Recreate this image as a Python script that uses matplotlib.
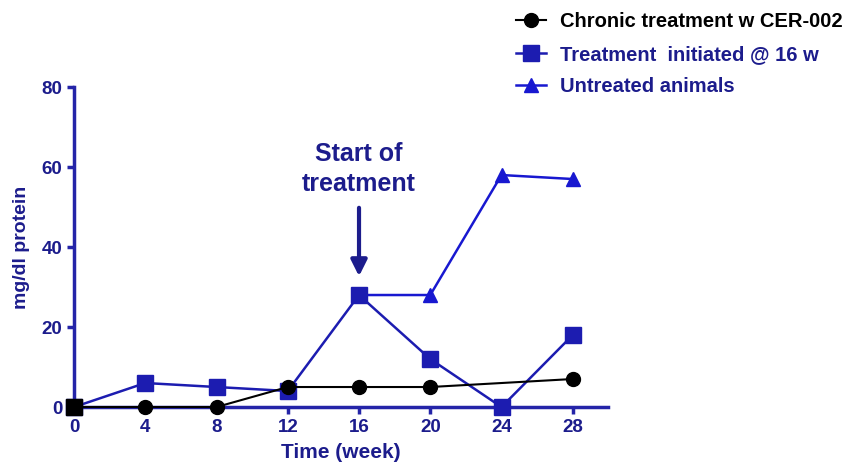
import matplotlib.pyplot as plt

plt.rcParams['font.family'] = ['Liberation Sans', 'DejaVu Sans']
plt.rcParams['font.weight'] = 'bold'

navy = '#1c1c8c'
axis_blue = '#2424a8'

# data
weeks_chronic = [4, 8, 12, 16, 20, 28]
chronic = [0, 0, 5, 5, 5, 7]
weeks_init = [0, 4, 8, 12, 16, 20, 24, 28]
initiated = [0, 6, 5, 4, 28, 12, 0, 18]
weeks_untreated = [16, 20, 24, 28]
untreated = [28, 28, 58, 57]
x_ticks = [0, 4, 8, 12, 16, 20, 24, 28]
y_ticks = [0, 20, 40, 60, 80]

fig = plt.figure(figsize=(8.66, 4.73), dpi=100)
ax = fig.add_axes([0.0855, 0.1395, 0.617, 0.6765])

l3, = ax.plot(weeks_untreated, untreated, color='#1818d0', lw=1.8, marker='^', ms=10, clip_on=False, zorder=3)
l2, = ax.plot(weeks_init, initiated, color='#1c1cb0', lw=1.8, marker='s', ms=11, clip_on=False, zorder=4)
l1, = ax.plot([0] + weeks_chronic, [0] + chronic, color='black', lw=1.5, marker='o', ms=10,
              markevery=list(range(1, len(weeks_chronic) + 1)), clip_on=False, zorder=5)
# first point is drawn as a dark square in the original
ax.plot(weeks_init[0], initiated[0], marker='s', ms=11, color='black', clip_on=False, zorder=6)

ax.set_xlim(0, 30)
ax.set_ylim(0, 80)
ax.set_xticks(x_ticks)
ax.set_yticks(y_ticks)
for s in ['top', 'right']:
    ax.spines[s].set_visible(False)
for s in ['left', 'bottom']:
    ax.spines[s].set_color(axis_blue)
    ax.spines[s].set_linewidth(2.5)
ax.tick_params(colors=axis_blue, width=2.5, length=5, labelsize=13.5, labelcolor=navy)
for lab in ax.get_xticklabels() + ax.get_yticklabels():
    lab.set_fontweight('bold')

ax.set_xlabel('Time (week)', fontsize=15, fontweight='bold', color=navy, labelpad=5)
ax.set_ylabel('mg/dl protein', fontsize=14, fontweight='bold', color=navy, labelpad=8)

ax.text(16, 59.5, 'Start of\ntreatment', ha='center', va='center', fontsize=18,
        fontweight='bold', color=navy, linespacing=1.3)
ax.annotate('', xy=(16, 32), xytext=(16, 50.5),
            arrowprops=dict(arrowstyle='-|>', color=navy, lw=3, mutation_scale=24))

leg = fig.legend([l1, l2, l3],
                 ['Chronic treatment w CER-002', 'Treatment  initiated @ 16 w', 'Untreated animals'],
                 loc='upper left', bbox_to_anchor=(0.575, 1.012), frameon=False,
                 prop={'weight': 'bold', 'size': 14.5}, handlelength=1.5, labelspacing=0.66,
                 handletextpad=0.7)
for t, c in zip(leg.get_texts(), ['black', navy, navy]):
    t.set_color(c)

fig.savefig('out.png', dpi=100)
